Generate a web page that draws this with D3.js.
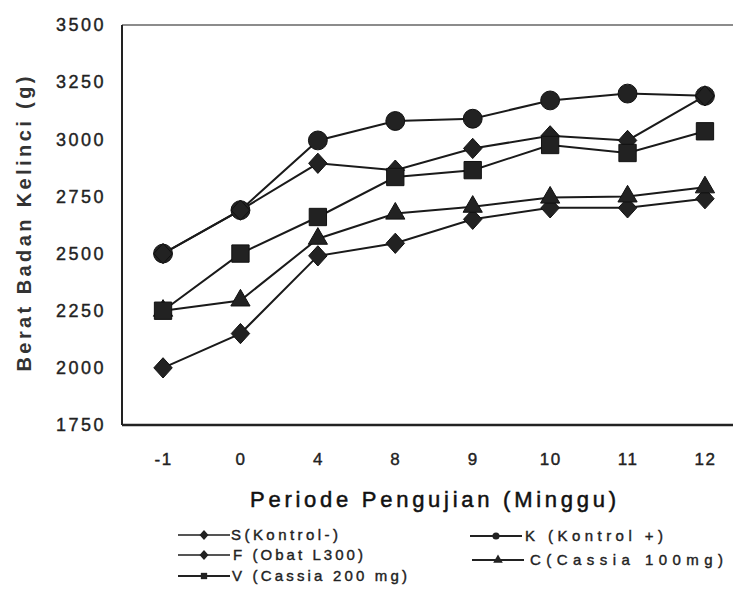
<!DOCTYPE html>
<html>
<head>
<meta charset="utf-8">
<script src="https://cdn.jsdelivr.net/npm/d3@7"></script>
<style>
  body { margin: 0; background: #fff; }
  svg { display: block; font-family: "Liberation Sans", Arial, sans-serif; }
</style>
</head>
<body>
<svg id="chart" width="733" height="589"></svg>
<script>
// weeks on the x axis
var weeks = ["-1", "0", "4", "8", "9", "10", "11", "12"];
var yTicks = [1750, 2000, 2250, 2500, 2750, 3000, 3250, 3500];

// body weight per group (g)
var sKontrolMin = [2000, 2150, 2490, 2545, 2650, 2700, 2700, 2740];
var kKontrolPlus = [2500, 2690, 2995, 3080, 3090, 3170, 3200, 3190];
var fObat = [2500, 2690, 2895, 2865, 2960, 3015, 2995, 3190];
var cCassia100 = [2250, 2295, 2565, 2675, 2705, 2745, 2750, 2790];
var vCassia200 = [2250, 2500, 2660, 2835, 2865, 2975, 2940, 3035];

var seriesNames = ["S(Kontrol-)", "K (Kontrol +)", "F (Obat L300)", "C(Cassia 100mg)", "V (Cassia 200 mg)"];
var seriesValues = [sKontrolMin, kKontrolPlus, fObat, cCassia100, vCassia200];

// tall diamond like the scanned one
var diamond = {
   draw: function(ctx, size) {
      var r = Math.sqrt(size / 2);
      ctx.moveTo(0, -r * 1.1);
      ctx.lineTo(r, 0);
      ctx.lineTo(0, r * 1.1);
      ctx.lineTo(-r, 0);
      ctx.closePath();
   }
};
var seriesSymbols = [diamond, d3.symbolCircle, diamond, d3.symbolTriangle, d3.symbolSquare];
var symbolSizes = [170, 280, 170, 160, 300];

var svg = d3.select("#chart");
var plotLeft = 122, plotRight = 746, plotTop = 25, plotBottom = 425;

var x = d3.scalePoint().domain(weeks).range([plotLeft, plotRight]).padding(0.53);
var y = d3.scaleLinear().domain([1750, 3500]).range([plotBottom, plotTop]);

// frame
svg.append("line").attr("x1", plotLeft).attr("x2", 733).attr("y1", plotTop).attr("y2", plotTop)
   .attr("stroke", "#666").attr("stroke-width", 1.5);
svg.append("line").attr("x1", plotLeft).attr("x2", plotLeft).attr("y1", plotTop).attr("y2", plotBottom)
   .attr("stroke", "#222").attr("stroke-width", 2);
svg.append("line").attr("x1", plotLeft).attr("x2", 733).attr("y1", plotBottom).attr("y2", plotBottom)
   .attr("stroke", "#222").attr("stroke-width", 2.5);

// y axis labels
var yAxis = d3.axisLeft(y).tickValues(yTicks).tickSize(0).tickPadding(16).tickFormat(d3.format("d"));
var gy = svg.append("g").attr("transform", "translate(" + plotLeft + ",0)").call(yAxis);
gy.select(".domain").remove();
gy.selectAll("text").attr("font-size", "18px").attr("fill", "#222").attr("letter-spacing", "2.5px")
   .attr("stroke", "#222").attr("stroke-width", 0.4);

// x axis labels
var xAxis = d3.axisBottom(x).tickSize(0).tickPadding(28);
var gx = svg.append("g").attr("transform", "translate(0," + plotBottom + ")").call(xAxis);
gx.select(".domain").remove();
gx.selectAll("text").attr("font-size", "17px").attr("fill", "#222").attr("letter-spacing", "1.5px")
   .attr("stroke", "#222").attr("stroke-width", 0.4);

// axis titles
svg.append("text")
   .attr("transform", "translate(31,224) rotate(-90)")
   .attr("text-anchor", "middle")
   .attr("font-size", "20px")
   .attr("font-weight", "bold")
   .attr("fill", "#333")
   .attr("textLength", 295)
   .attr("lengthAdjust", "spacing")
   .text("Berat Badan Kelinci (g)");

svg.append("text")
   .attr("x", 433).attr("y", 507)
   .attr("text-anchor", "middle")
   .attr("font-size", "22px")
   .attr("fill", "#111")
   .attr("stroke", "#111")
   .attr("stroke-width", 0.5)
   .attr("textLength", 366)
   .attr("lengthAdjust", "spacing")
   .text("Periode Pengujian (Minggu)");

// lines
var line = d3.line().x(function(d, i) { return x(weeks[i]); }).y(function(d) { return y(d); });

seriesValues.forEach(function(vals) {
   svg.append("path").datum(vals)
      .attr("d", line)
      .attr("fill", "none")
      .attr("stroke", "#1a1a1a")
      .attr("stroke-width", 2);
});

// markers
seriesValues.forEach(function(vals, s) {
   svg.append("g").selectAll("path").data(vals).enter().append("path")
      .attr("transform", function(d, i) { return "translate(" + x(weeks[i]) + "," + y(d) + ")"; })
      .attr("d", d3.symbol().type(seriesSymbols[s]).size(symbolSizes[s]))
      .attr("fill", "#222")
      .attr("stroke", "#111")
      .attr("stroke-width", 1);
});

// legend
var legendPos = [[178, 535], [470, 536], [178, 555], [472, 560], [178, 576]];
var legendTextX = [53, 55, 55, 58, 54];
var legendWidth = [107, 138, 130, 193, 175];
var legendCol = ["#555", "#222", "#555", "#222", "#222"];
seriesNames.forEach(function(name, s) {
   var p = legendPos[s];
   var g = svg.append("g").attr("transform", "translate(" + p[0] + "," + p[1] + ")");
   g.append("line").attr("x1", 0).attr("x2", 52).attr("y1", 0).attr("y2", 0)
      .attr("stroke", legendCol[s]).attr("stroke-width", 2);
   g.append("path").attr("transform", "translate(26,0)")
      .attr("d", d3.symbol().type(seriesSymbols[s]).size(40))
      .attr("fill", "#222");
   g.append("text").attr("x", legendTextX[s]).attr("dy", "0.36em")
      .attr("font-size", "15px").attr("fill", "#222")
      .attr("stroke", "#222").attr("stroke-width", 0.4)
      .attr("textLength", legendWidth[s])
      .attr("lengthAdjust", "spacing")
      .text(name);
});
</script>
</body>
</html>
